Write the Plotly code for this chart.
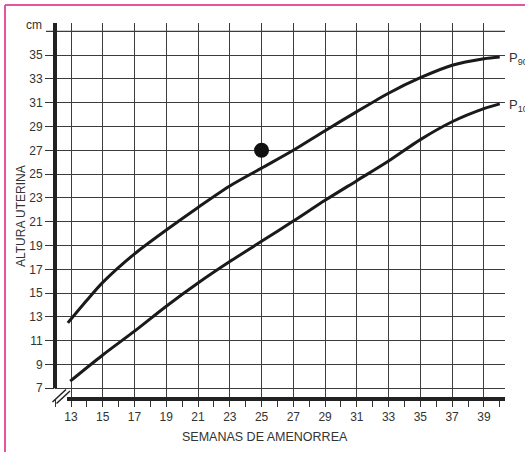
import plotly.graph_objects as go

# ---- data ----
weeks_p90 = [12.8, 14, 15, 17, 19, 21, 23, 25, 27, 29, 31, 33, 35, 37, 39, 40]
p90 = [12.5, 14.4, 15.9, 18.3, 20.3, 22.2, 24.0, 25.5, 27.0, 28.65, 30.25, 31.8, 33.1, 34.15, 34.7, 34.85]
weeks_p10 = [12.95, 15, 17, 19, 21, 23, 25, 27, 29, 31, 33, 35, 37, 39, 40]
p10 = [7.6, 9.8, 11.8, 13.9, 15.85, 17.65, 19.35, 21.05, 22.8, 24.45, 26.1, 27.9, 29.4, 30.5, 30.9]
point_week = [25]
point_height = [27]
x_ticks = list(range(13, 40, 2))
y_ticks = list(range(7, 36, 2))
y_top_line = 37

# pixel geometry helpers (plot area: x 55..505, y 23..399)
L, R, T, B = 55, 505, 23, 399
W, H = R - L, B - T
def px(x):
    return (x - L) / W
def py(y):
    return (B - y) / H

FONT = "Liberation Sans, Arial, sans-serif"
INK = "#1a1a1a"
GRID = "#3c3c3c"
TXT = "#333333"
PINK = "#e4549f"

fig = go.Figure()
fig.add_trace(go.Scatter(x=weeks_p90, y=p90, mode="lines",
                         line=dict(color=INK, width=3, shape="spline", smoothing=0.8),
                         showlegend=False, hoverinfo="skip"))
fig.add_trace(go.Scatter(x=weeks_p10, y=p10, mode="lines",
                         line=dict(color=INK, width=3, shape="spline", smoothing=0.8),
                         showlegend=False, hoverinfo="skip"))
fig.add_trace(go.Scatter(x=point_week, y=point_height, mode="markers",
                         marker=dict(color="#111111", size=15),
                         showlegend=False, hoverinfo="skip"))

shapes = [
    # top grid line (cm) with its tick
    dict(type="line", xref="paper", yref="y", x0=px(46), x1=1, y0=y_top_line, y1=y_top_line,
         line=dict(color=GRID, width=1.4), layer="below"),
    # left thick axis (stops at 7)
    dict(type="line", xref="paper", yref="paper", x0=0, x1=0, y0=py(388.3), y1=1,
         line=dict(color="#222222", width=4)),
    # bottom thick axis
    dict(type="line", xref="paper", yref="paper", x0=px(67), x1=1, y0=0, y1=0,
         line=dict(color="#222222", width=4)),
    # axis break marks
    dict(type="line", xref="paper", yref="paper", x0=px(52.5), y0=py(402), x1=px(66), y1=py(389.5),
         line=dict(color="#222222", width=1.5)),
    dict(type="line", xref="paper", yref="paper", x0=px(56.5), y0=py(403.5), x1=px(70), y1=py(391),
         line=dict(color="#222222", width=1.5)),
    # pink frame (top and left edges)
    dict(type="line", xref="paper", yref="paper", x0=px(5), x1=px(5), y0=py(5), y1=py(460),
         line=dict(color=PINK, width=2)),
    dict(type="line", xref="paper", yref="paper", x0=px(5), x1=px(530), y0=py(5), y1=py(5),
         line=dict(color=PINK, width=2)),
]

annotations = [
    dict(text="cm", xref="paper", yref="paper", x=px(44), y=py(25), xanchor="right", yanchor="middle",
         showarrow=False, font=dict(family=FONT, size=12, color=TXT)),
    dict(text="ALTURA UTERINA", xref="paper", yref="paper", x=px(21), y=py(216), textangle=-90,
         xanchor="center", yanchor="middle", showarrow=False,
         font=dict(family=FONT, size=12, color=TXT)),
    dict(text="SEMANAS DE AMENORREA", xref="paper", yref="paper", x=px(265), y=py(437),
         xanchor="center", yanchor="middle", showarrow=False,
         font=dict(family=FONT, size=12.5, color=TXT)),
    dict(text="P<sub>90</sub>", xref="paper", yref="paper", x=px(507), y=py(58),
         xanchor="left", yanchor="middle", showarrow=False,
         font=dict(family=FONT, size=13, color=TXT)),
    dict(text="P<sub>10</sub>", xref="paper", yref="paper", x=px(507), y=py(105),
         xanchor="left", yanchor="middle", showarrow=False,
         font=dict(family=FONT, size=13, color=TXT)),
]

fig.update_layout(
    width=525, height=452,
    margin=dict(l=L, r=525 - R, t=T, b=452 - B, pad=0),
    paper_bgcolor="white", plot_bgcolor="white",
    shapes=shapes, annotations=annotations,
    xaxis=dict(range=[11.992, 40.33], tickvals=x_ticks, ticktext=[str(v) for v in x_ticks],
               showgrid=True, gridcolor=GRID, gridwidth=1.4, zeroline=False, showline=False,
               ticks="outside", ticklen=7, tickwidth=1.4, tickcolor=TXT,
               minor=dict(dtick=1, tick0=13, ticks="outside", ticklen=7, tickwidth=1.4,
                          tickcolor=TXT, showgrid=False),
               tickfont=dict(family=FONT, size=12, color=TXT), fixedrange=True),
    yaxis=dict(range=[6.10, 37.70], tickvals=y_ticks, ticktext=[str(v) for v in y_ticks],
               showgrid=True, gridcolor=GRID, gridwidth=1.4, zeroline=False, showline=False,
               ticks="outside", ticklen=9, tickwidth=1.4, tickcolor=TXT,
               tickfont=dict(family=FONT, size=12, color=TXT), fixedrange=True),
)

fig.write_html("out.html", config={"displayModeBar": False},
               post_script="document.body.style.margin='0';document.body.style.overflow='hidden';")
